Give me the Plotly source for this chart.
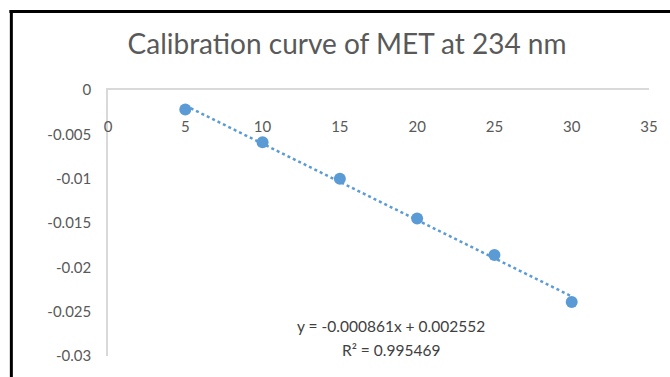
import plotly.graph_objects as go

# Calibration data: concentration vs. absorbance change
concentration = [5, 10, 15, 20, 25, 30]
absorbance = [-0.0022, -0.0059, -0.0100, -0.0145, -0.0186, -0.0239]

# Linear trendline reported for the series
slope = -0.000861
intercept = 0.002552
r_squared = 0.995469

x_ticks = [0, 5, 10, 15, 20, 25, 30, 35]
y_ticks = [0, -0.005, -0.01, -0.015, -0.02, -0.025, -0.03]
y_tick_text = ["0", "-0.005", "-0.01", "-0.015", "-0.02", "-0.025", "-0.03"]

title_text = "Calibration curve of MET at 234 nm"

BLUE = "#5B9BD5"
GREY_TEXT = "#595959"
AXIS_GREY = "#D9D9D9"
FONT = "Lato, 'Open Sans', sans-serif"

W, H = 670, 377
L, R, T, B = 108, 19, 90, 21
plot_w = W - L - R
plot_h = H - T - B

fit_x = [concentration[0], concentration[-1]]
fit_y = [slope * x + intercept for x in fit_x]

fig = go.Figure()
fig.add_trace(go.Scatter(
    x=fit_x, y=fit_y, mode="lines",
    line=dict(color=BLUE, width=2.5, dash="dot"),
    hoverinfo="skip", showlegend=False,
))
fig.add_trace(go.Scatter(
    x=concentration, y=absorbance, mode="markers",
    marker=dict(color=BLUE, size=12, line=dict(width=0)),
    showlegend=False,
))


def px_to_paper_x(px):
    return (px - L) / plot_w


def px_to_paper_y(py):
    return 1 - (py - T) / plot_h


# Trendline equation and R² shown under the series
eq_lines = [f"y = {slope:.6f}x + {intercept:.6f}", f"R² = {r_squared:.6f}"]
for text, py in zip(eq_lines, [326, 350]):
    fig.add_annotation(
        x=px_to_paper_x(392), y=px_to_paper_y(py), xref="paper", yref="paper",
        text=text, showarrow=False, xanchor="center", yanchor="middle",
        font=dict(family=FONT, size=15.5, color="#404040"),
    )

# Outer frame of the chart area (top and left edges)
fig.add_shape(type="line", xref="paper", yref="paper",
              x0=px_to_paper_x(9), x1=px_to_paper_x(675),
              y0=px_to_paper_y(11.5), y1=px_to_paper_y(11.5),
              line=dict(color="black", width=3))
fig.add_shape(type="line", xref="paper", yref="paper",
              x0=px_to_paper_x(11), x1=px_to_paper_x(11),
              y0=px_to_paper_y(10), y1=px_to_paper_y(385),
              line=dict(color="black", width=3))

fig.update_layout(
    width=W, height=H,
    margin=dict(l=L, r=R, t=T, b=B),
    paper_bgcolor="white", plot_bgcolor="white",
    title=dict(text=title_text, x=347 / W, xanchor="center",
               y=1 - 44 / H, yanchor="middle",
               font=dict(family=FONT, size=28, color=GREY_TEXT)),
    xaxis=dict(
        range=[0, 35], side="top", tickvals=x_ticks,
        ticktext=[str(v) for v in x_ticks],
        ticklabelposition="inside", ticklabelstandoff=32,
        ticklabeloverflow="allow",
        showline=True, linecolor=AXIS_GREY, linewidth=1.5,
        showgrid=False, zeroline=False, ticks="",
        tickfont=dict(family=FONT, size=15, color=GREY_TEXT),
    ),
    yaxis=dict(
        range=[-0.03, 0], tickvals=y_ticks, ticktext=y_tick_text,
        showline=True, linecolor=AXIS_GREY, linewidth=1.5,
        showgrid=False, zeroline=False, ticks="",
        ticklabelstandoff=12,
        tickfont=dict(family=FONT, size=15, color=GREY_TEXT),
    ),
)

fig.write_html("out.html")
